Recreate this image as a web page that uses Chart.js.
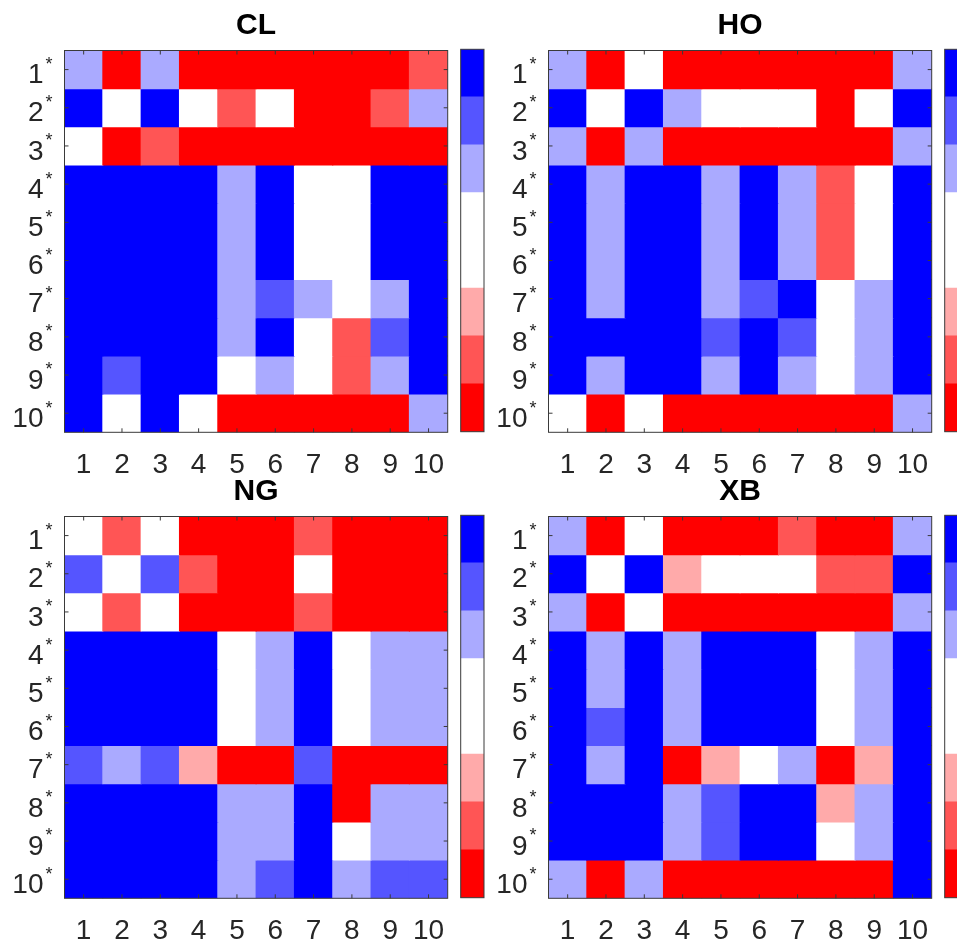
<!DOCTYPE html>
<html lang="en">
<head>
    <meta charset="UTF-8">
    <title>CL / HO / NG / XB</title>
    <style>
        html, body {
            margin: 0;
            padding: 0;
            background: #fff;
            overflow: hidden;
        }
        body {
            position: relative;
            width: 957px;
            height: 944px;
        }
        canvas {
            position: absolute;
        }
    </style>
</head>
<body>
    <canvas id="clMap" width="480" height="480" style="left:0px;top:0px"></canvas>
    <canvas id="clBar" width="60" height="480" style="left:440px;top:0px"></canvas>
    <canvas id="hoMap" width="480" height="480" style="left:484px;top:0px"></canvas>
    <canvas id="hoBar" width="60" height="480" style="left:924px;top:0px"></canvas>
    <canvas id="ngMap" width="480" height="480" style="left:0px;top:466px"></canvas>
    <canvas id="ngBar" width="60" height="480" style="left:440px;top:466px"></canvas>
    <canvas id="xbMap" width="480" height="480" style="left:484px;top:466px"></canvas>
    <canvas id="xbBar" width="60" height="480" style="left:924px;top:466px"></canvas>

    <script src="https://cdn.jsdelivr.net/npm/chart.js"></script>
    <script>
        // tick labels
        const rowLabels = ['1', '2', '3', '4', '5', '6', '7', '8', '9', '10'];
        const colLabels = ['1', '2', '3', '4', '5', '6', '7', '8', '9', '10'];

        // levels: 3 blue ... 0 white ... -3 red
        const levelColors = {
            '3': '#0000ff',
            '2': '#5555ff',
            '1': '#aaaaff',
            '0': '#ffffff',
            '-1': '#ffaaaa',
            '-2': '#ff5555',
            '-3': '#ff0000'
        };

        // colorbar bands, bottom to top
        const colorbarLevels = [-3, -2, -1, 0, 0, 1, 2, 3];

        // one row per starred label, one entry per column
        const clMatrix = [
            [1, -3, 1, -3, -3, -3, -3, -3, -3, -2],
            [3, 0, 3, 0, -2, 0, -3, -3, -2, 1],
            [0, -3, -2, -3, -3, -3, -3, -3, -3, -3],
            [3, 3, 3, 3, 1, 3, 0, 0, 3, 3],
            [3, 3, 3, 3, 1, 3, 0, 0, 3, 3],
            [3, 3, 3, 3, 1, 3, 0, 0, 3, 3],
            [3, 3, 3, 3, 1, 2, 1, 0, 1, 3],
            [3, 3, 3, 3, 1, 3, 0, -2, 2, 3],
            [3, 2, 3, 3, 0, 1, 0, -2, 1, 3],
            [3, 0, 3, 0, -3, -3, -3, -3, -3, 1]
        ];
        const hoMatrix = [
            [1, -3, 0, -3, -3, -3, -3, -3, -3, 1],
            [3, 0, 3, 1, 0, 0, 0, -3, 0, 3],
            [1, -3, 1, -3, -3, -3, -3, -3, -3, 1],
            [3, 1, 3, 3, 1, 3, 1, -2, 0, 3],
            [3, 1, 3, 3, 1, 3, 1, -2, 0, 3],
            [3, 1, 3, 3, 1, 3, 1, -2, 0, 3],
            [3, 1, 3, 3, 1, 2, 3, 0, 1, 3],
            [3, 3, 3, 3, 2, 3, 2, 0, 1, 3],
            [3, 1, 3, 3, 1, 3, 1, 0, 1, 3],
            [0, -3, 0, -3, -3, -3, -3, -3, -3, 1]
        ];
        const ngMatrix = [
            [0, -2, 0, -3, -3, -3, -2, -3, -3, -3],
            [2, 0, 2, -2, -3, -3, 0, -3, -3, -3],
            [0, -2, 0, -3, -3, -3, -2, -3, -3, -3],
            [3, 3, 3, 3, 0, 1, 3, 0, 1, 1],
            [3, 3, 3, 3, 0, 1, 3, 0, 1, 1],
            [3, 3, 3, 3, 0, 1, 3, 0, 1, 1],
            [2, 1, 2, -1, -3, -3, 2, -3, -3, -3],
            [3, 3, 3, 3, 1, 1, 3, -3, 1, 1],
            [3, 3, 3, 3, 1, 1, 3, 0, 1, 1],
            [3, 3, 3, 3, 1, 2, 3, 1, 2, 2]
        ];
        const xbMatrix = [
            [1, -3, 0, -3, -3, -3, -2, -3, -3, 1],
            [3, 0, 3, -1, 0, 0, 0, -2, -2, 3],
            [1, -3, 0, -3, -3, -3, -3, -3, -3, 1],
            [3, 1, 3, 1, 3, 3, 3, 0, 1, 3],
            [3, 1, 3, 1, 3, 3, 3, 0, 1, 3],
            [3, 2, 3, 1, 3, 3, 3, 0, 1, 3],
            [3, 1, 3, -3, -1, 0, 1, -3, -1, 3],
            [3, 3, 3, 1, 2, 3, 3, -1, 1, 3],
            [3, 3, 3, 1, 2, 3, 3, 0, 1, 3],
            [1, -3, 1, -3, -3, -3, -3, -3, -3, 3]
        ];

        const FONT = 'Liberation Sans, Arial, Helvetica, sans-serif';
        const AXIS_COLOR = '#262626';

        // axes box, inward ticks and the superscript stars
        const boxPlugin = {
            id: 'box',
            afterDatasetsDraw(chart) {
                const a = chart.chartArea;
                const ctx = chart.ctx;
                ctx.save();
                ctx.strokeStyle = '#3a3a3a';
                ctx.lineWidth = 1;
                ctx.strokeRect(a.left, a.top, a.right - a.left, a.bottom - a.top);
                if (chart.options.plugins.box.ticks) {
                    const xs = chart.scales.x;
                    const ys = chart.scales.y;
                    ctx.beginPath();
                    xs.ticks.forEach((t, i) => {
                        const px = xs.getPixelForTick(i);
                        ctx.moveTo(px, a.bottom); ctx.lineTo(px, a.bottom - 4);
                        ctx.moveTo(px, a.top); ctx.lineTo(px, a.top + 4);
                    });
                    ys.ticks.forEach(t => {
                        const py = ys.getPixelForValue(t.value);
                        ctx.moveTo(a.left, py); ctx.lineTo(a.left + 4, py);
                        ctx.moveTo(a.right, py); ctx.lineTo(a.right - 4, py);
                    });
                    ctx.stroke();
                    ctx.fillStyle = AXIS_COLOR;
                    ctx.font = '18px ' + FONT;
                    ctx.textAlign = 'center';
                    ctx.textBaseline = 'middle';
                    ys.ticks.forEach(t => {
                        const py = ys.getPixelForValue(t.value);
                        ctx.fillText('*', a.left - 15.5, py - 4.5);
                    });
                }
                ctx.restore();
            }
        };

        function makeHeatmap(id, title, matrix) {
            const datasets = matrix.map((row, r) => ({
                data: colLabels.map(() => [r + 0.5, r + 1.5]),
                backgroundColor: row.map(v => levelColors[v]),
                borderWidth: 0,
                barPercentage: 1,
                categoryPercentage: 1,
                grouped: false,
                inflateAmount: 0.5
            }));
            return new Chart(document.getElementById(id), {
                type: 'bar',
                data: { labels: colLabels, datasets: datasets },
                options: {
                    responsive: false,
                    animation: false,
                    layout: { padding: { left: 0, right: 32.3, top: 0, bottom: 0 } },
                    plugins: {
                        legend: { display: false },
                        tooltip: { enabled: false },
                        title: {
                            display: true,
                            text: title,
                            fullSize: false,
                            color: '#000',
                            font: { family: FONT, size: 30, weight: 'bold' },
                            padding: { top: 8, bottom: 6.5 }
                        },
                        box: { ticks: true }
                    },
                    scales: {
                        x: {
                            type: 'category',
                            grid: { display: false, drawTicks: false },
                            border: { display: false },
                            ticks: { color: AXIS_COLOR, font: { family: FONT, size: 28 }, padding: 16, maxRotation: 0, autoSkip: false },
                            afterFit: s => { s.height = 47.7; }
                        },
                        y: {
                            type: 'linear',
                            min: 0.5,
                            max: 10.5,
                            reverse: true,
                            grid: { display: false, drawTicks: false },
                            border: { display: false },
                            afterBuildTicks: s => { s.ticks = rowLabels.map((l, i) => ({ value: i + 1 })); },
                            ticks: {
                                autoSkip: false,
                                color: AXIS_COLOR,
                                font: { family: FONT, size: 28 },
                                padding: 21,
                                labelOffset: 6,
                                callback: v => rowLabels[v - 1]
                            },
                            afterFit: s => { s.width = 64.5; }
                        }
                    }
                },
                plugins: [boxPlugin]
            });
        }

        function makeColorbar(id) {
            const datasets = colorbarLevels.map(lv => ({
                data: [1],
                backgroundColor: levelColors[lv],
                borderWidth: 0,
                barPercentage: 1,
                categoryPercentage: 1,
                inflateAmount: 0.5
            }));
            return new Chart(document.getElementById(id), {
                type: 'bar',
                data: { labels: ['bar'], datasets: datasets },
                options: {
                    responsive: false,
                    animation: false,
                    layout: { padding: { left: 20.7, right: 16, top: 49.3, bottom: 48.3 } },
                    plugins: {
                        legend: { display: false },
                        tooltip: { enabled: false },
                        box: { ticks: false }
                    },
                    scales: {
                        x: { stacked: true, display: false },
                        y: { stacked: true, display: false, min: 0, max: colorbarLevels.length }
                    }
                },
                plugins: [boxPlugin]
            });
        }

        makeHeatmap('clMap', 'CL', clMatrix);
        makeColorbar('clBar');
        makeHeatmap('hoMap', 'HO', hoMatrix);
        makeColorbar('hoBar');
        makeHeatmap('ngMap', 'NG', ngMatrix);
        makeColorbar('ngBar');
        makeHeatmap('xbMap', 'XB', xbMatrix);
        makeColorbar('xbBar');
    </script>
</body>
</html>
